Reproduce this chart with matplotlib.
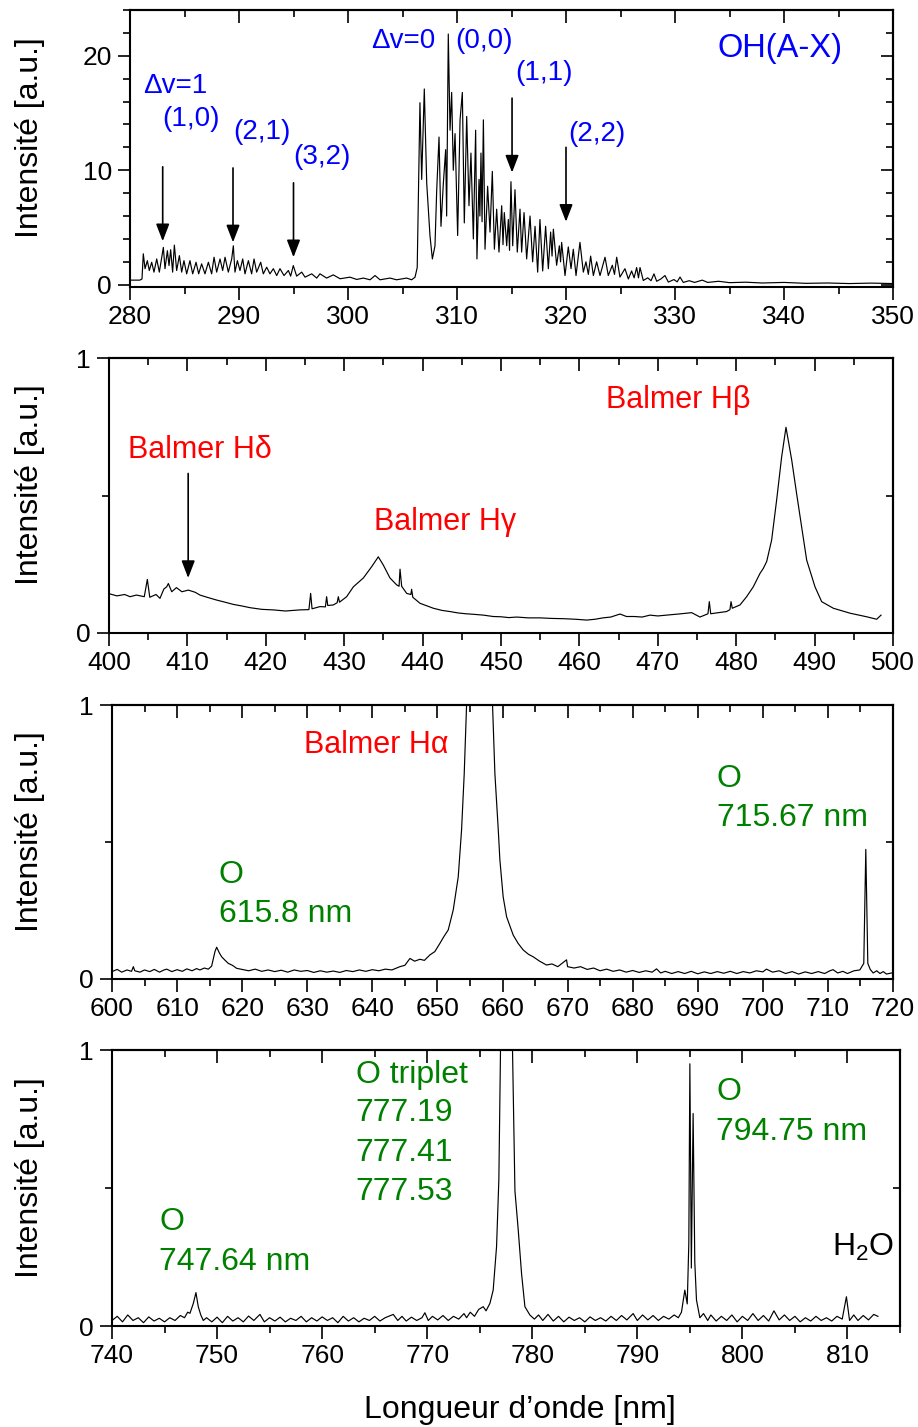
import matplotlib
matplotlib.use('Agg')
import matplotlib.pyplot as plt
from matplotlib.ticker import MultipleLocator

plt.rcParams['font.family'] = ['Liberation Sans', 'DejaVu Sans']
plt.rcParams['mathtext.fontset'] = 'custom'
plt.rcParams['mathtext.rm'] = 'Liberation Sans'

# --- OH(A-X) band, 280-350 nm ---
oh_nm = [280.0, 280.9, 281.1, 281.22, 281.38, 281.59, 281.77, 281.99, 282.2, 282.45,
         282.69, 282.91, 283.06, 283.21, 283.43, 283.58, 283.73, 283.91, 284.07, 284.28,
         284.53, 284.74, 284.95, 285.2, 285.5, 285.75, 286.06, 286.3, 286.57, 286.88,
         287.19, 287.49, 287.71, 287.95, 288.26, 288.5, 288.72, 289.02, 289.33, 289.48,
         289.63, 289.85, 290.09, 290.34, 290.55, 290.86, 291.16, 291.38, 291.62, 291.99,
         292.23, 292.54, 292.84, 293.15, 293.46, 293.76, 294.13, 294.53, 294.74, 294.98,
         295.29, 295.75, 296.06, 296.67, 297.13, 297.43, 298.04, 298.65, 299.27, 300.18,
         300.8, 301.41, 302.02, 302.48, 302.94, 303.85, 304.46, 305.38, 305.84, 306.15,
         306.35, 306.6, 306.76, 307.0, 307.22, 307.52, 307.74, 307.98, 308.14, 308.35,
         308.53, 308.75, 308.96, 309.05, 309.2, 309.36, 309.51, 309.66, 309.82, 310.06,
         310.28, 310.49, 310.67, 310.89, 311.1, 311.28, 311.5, 311.71, 311.83, 312.02,
         312.1, 312.2, 312.3, 312.42, 312.57, 312.81, 313.03, 313.24, 313.43, 313.64,
         313.85, 314.1, 314.22, 314.34, 314.56, 314.71, 314.82, 314.95, 315.11, 315.32,
         315.53, 315.78, 315.93, 316.15, 316.39, 316.7, 316.94, 317.16, 317.4, 317.61,
         317.86, 318.13, 318.38, 318.59, 318.72, 318.84, 319.14, 319.39, 319.5, 319.6,
         319.91, 320.21, 320.46, 320.67, 320.92, 321.28, 321.59, 321.83, 322.05, 322.26,
         322.51, 322.81, 323.12, 323.58, 323.88, 324.25, 324.45, 324.65, 324.95, 325.41,
         325.72, 326.02, 326.25, 326.48, 326.65, 326.79, 327.09, 327.5, 327.8, 328.07,
         328.32, 328.7, 329.08, 329.39, 329.9, 330.2, 330.46, 330.76, 331.3, 331.8,
         332.5, 333.0, 334.0, 335.0, 336.5, 338.0, 340.0, 342.0, 344.0, 346.0,
         348.0, 350.0]
oh_int = [0.4, 0.4, 0.5, 2.7, 1.4, 2.1, 1.24, 1.96, 1.1, 2.25,
          1.1, 2.4, 3.26, 1.4, 2.97, 1.67, 3.06, 1.1, 3.46, 1.24,
          2.54, 1.1, 2.1, 0.95, 2.1, 0.95, 1.96, 0.95, 1.82, 0.95,
          1.96, 0.95, 2.4, 1.1, 2.25, 1.24, 2.4, 1.1, 2.25, 3.4,
          1.1, 2.1, 1.24, 2.25, 0.95, 2.1, 0.95, 2.25, 1.1, 1.96,
          0.95, 1.53, 0.95, 1.4, 0.8, 1.4, 0.8, 1.24, 0.75, 1.67,
          0.75, 1.1, 0.66, 0.95, 0.58, 0.95, 0.58, 0.86, 0.52, 0.66,
          0.46, 0.58, 0.43, 0.8, 0.43, 0.58, 0.43, 0.58, 0.43, 0.66,
          1.5, 15.9, 9.2, 17.1, 8.9, 4.3, 2.25, 3.4, 8.3, 12.9,
          5.1, 8.9, 11.8, 6.0, 21.9, 13.5, 16.8, 10.0, 13.2, 4.3,
          14.4, 16.8, 5.4, 14.7, 6.9, 11.5, 4.0, 13.5, 2.25, 9.2,
          6.0, 11.5, 5.5, 14.4, 3.1, 8.6, 4.6, 9.9, 3.1, 6.6,
          2.85, 6.9, 3.5, 6.3, 3.4, 5.7, 3.0, 9.0, 3.4, 8.3,
          2.85, 6.6, 2.85, 6.3, 2.25, 6.0, 2.0, 5.1, 1.1, 5.7,
          1.2, 5.1, 1.4, 4.6, 2.5, 4.85, 1.7, 3.4, 2.0, 3.7,
          0.8, 3.3, 1.4, 3.1, 0.8, 3.7, 1.1, 2.0, 0.9, 2.5,
          0.8, 2.0, 0.8, 2.4, 0.8, 1.7, 0.9, 2.4, 0.67, 1.4,
          0.5, 1.2, 0.6, 1.5, 0.6, 1.5, 0.37, 0.6, 0.35, 0.95,
          0.3, 0.5, 0.8, 0.23, 0.45, 0.25, 0.67, 0.2, 0.35, 0.2,
          0.4, 0.2, 0.3, 0.18, 0.22, 0.15, 0.2, 0.12, 0.15, 0.1,
          0.14, 0.1]

# --- Balmer H-delta / H-gamma / H-beta, 400-500 nm ---
hb_nm = [400.13, 401.0, 402.0, 402.68, 403.5, 404.5, 404.89, 405.2, 406.0, 406.5,
         407.0, 407.36, 407.57, 408.0, 408.6, 409.3, 410.12, 411.0, 411.6, 412.5,
         413.7, 414.8, 415.86, 417.0, 418.0, 419.5, 420.96, 422.5, 424.36, 425.5,
         425.72, 425.9, 426.91, 427.6, 427.76, 427.9, 428.61, 429.1, 429.25, 429.4,
         430.31, 431.17, 432.44, 433.5, 434.35, 434.99, 435.84, 436.69, 437.0, 437.12,
         437.33, 437.97, 438.5, 438.6, 438.75, 439.67, 441.37, 442.5, 443.5, 444.5,
         445.5, 446.5, 447.75, 449.0, 450.0, 451.0, 452.0, 453.5, 455.0, 456.5,
         458.0, 459.5, 460.93, 462.0, 463.0, 464.0, 465.18, 466.0, 467.0, 468.0,
         469.0, 470.0, 471.5, 473.0, 474.32, 475.38, 476.4, 476.57, 476.75, 478.0,
         478.78, 479.2, 479.34, 479.5, 480.48, 481.33, 482.18, 483.04, 483.46, 483.89,
         484.52, 485.16, 485.8, 486.35, 487.08, 487.7, 488.34, 488.99, 490.05, 490.9,
         492.39, 494.52, 496.64, 497.92, 498.47]
hb_int = [0.142, 0.135, 0.14, 0.132, 0.138, 0.132, 0.195, 0.13, 0.14, 0.126,
          0.16, 0.168, 0.18, 0.15, 0.165, 0.15, 0.156, 0.148, 0.138, 0.13,
          0.12, 0.112, 0.104, 0.098, 0.092, 0.086, 0.084, 0.08, 0.084, 0.085,
          0.144, 0.088, 0.096, 0.095, 0.132, 0.1, 0.102, 0.11, 0.132, 0.112,
          0.132, 0.168, 0.2, 0.241, 0.277, 0.247, 0.2, 0.175, 0.17, 0.232,
          0.17, 0.144, 0.14, 0.159, 0.13, 0.108, 0.09, 0.082, 0.078, 0.073,
          0.07, 0.068, 0.065, 0.06, 0.059, 0.056, 0.058, 0.055, 0.055, 0.053,
          0.052, 0.05, 0.047, 0.05, 0.055, 0.058, 0.069, 0.06, 0.06, 0.058,
          0.065, 0.062, 0.066, 0.07, 0.074, 0.058, 0.07, 0.114, 0.07, 0.075,
          0.078, 0.085, 0.114, 0.09, 0.102, 0.132, 0.168, 0.217, 0.235, 0.26,
          0.338, 0.484, 0.641, 0.748, 0.629, 0.508, 0.387, 0.265, 0.168, 0.114,
          0.09, 0.072, 0.059, 0.05, 0.065]

# --- Balmer H-alpha and O lines, 600-720 nm ---
ha_nm = [600.0, 600.8, 601.5, 602.3, 603.0, 603.28, 603.5, 604.3, 605.0, 605.8,
         606.5, 607.3, 608.0, 608.4, 609.2, 610.0, 610.8, 611.5, 612.3, 613.0,
         613.5, 614.2, 614.8, 615.31, 615.82, 616.08, 616.5, 616.85, 617.3, 617.87,
         618.5, 619.15, 620.0, 621.0, 622.0, 623.0, 624.0, 625.0, 626.0, 627.0,
         628.0, 629.0, 630.0, 631.0, 632.0, 633.0, 634.0, 635.0, 636.0, 637.0,
         638.0, 639.0, 640.0, 641.0, 642.0, 643.0, 644.24, 645.0, 645.78, 646.5,
         647.31, 648.0, 648.85, 649.6, 650.38, 651.0, 651.66, 652.43, 653.2, 653.71,
         654.12, 654.48, 655.5, 656.5, 657.5, 658.47, 658.83, 659.35, 659.6, 660.1,
         660.63, 661.65, 662.4, 663.18, 664.0, 664.72, 665.7, 666.77, 667.6, 668.5,
         669.84, 670.0, 671.0, 672.0, 673.0, 674.0, 675.0, 676.0, 677.0, 678.0,
         679.0, 680.0, 681.0, 682.0, 683.0, 683.67, 684.3, 685.0, 686.0, 687.0,
         688.0, 689.0, 690.0, 691.0, 692.0, 693.0, 694.0, 695.0, 696.0, 697.0,
         698.0, 699.0, 700.0, 700.56, 701.5, 702.5, 703.5, 704.5, 705.5, 706.5,
         707.5, 708.5, 709.5, 710.3, 710.8, 711.5, 712.3, 713.0, 714.0, 714.9,
         715.51, 715.82, 716.13, 716.5, 716.95, 717.5, 718.0, 718.5, 719.0, 719.77]
ha_int = [0.027, 0.035, 0.025, 0.033, 0.028, 0.045, 0.03, 0.025, 0.033, 0.027,
          0.035, 0.025, 0.033, 0.036, 0.027, 0.034, 0.028, 0.037, 0.03, 0.038,
          0.033, 0.04, 0.036, 0.047, 0.1, 0.116, 0.095, 0.081, 0.07, 0.057,
          0.05, 0.039, 0.035, 0.03, 0.036, 0.028, 0.033, 0.027, 0.032, 0.025,
          0.033, 0.028, 0.031, 0.024, 0.03, 0.025, 0.029, 0.024, 0.031, 0.027,
          0.033, 0.028, 0.034, 0.03, 0.036, 0.033, 0.045, 0.05, 0.075, 0.065,
          0.072, 0.068, 0.088, 0.1, 0.13, 0.155, 0.179, 0.252, 0.373, 0.544,
          0.75, 1.0, 2.2, 3.0, 2.2, 1.0, 0.75, 0.544, 0.434, 0.3,
          0.227, 0.16, 0.13, 0.106, 0.09, 0.081, 0.065, 0.051, 0.055, 0.045,
          0.07, 0.045, 0.04, 0.045, 0.035, 0.04, 0.03, 0.036, 0.028, 0.033,
          0.025, 0.031, 0.024, 0.03, 0.025, 0.037, 0.022, 0.028, 0.02, 0.027,
          0.02, 0.028, 0.019, 0.026, 0.02, 0.027, 0.021, 0.028, 0.02, 0.027,
          0.022, 0.03, 0.026, 0.036, 0.025, 0.03, 0.02, 0.027, 0.018, 0.026,
          0.02, 0.027, 0.02, 0.03, 0.034, 0.022, 0.028, 0.02, 0.03, 0.033,
          0.057, 0.473, 0.057, 0.035, 0.022, 0.03, 0.02, 0.027, 0.018, 0.022]

# --- O lines and H2O, 740-815 nm ---
o_nm = [740.0, 740.5, 741.0, 741.5, 742.0, 742.5, 743.0, 743.5, 744.0, 744.5,
        745.0, 745.5, 746.0, 746.5, 746.9, 747.2, 747.42, 747.74, 747.99, 748.21,
        748.45, 748.69, 749.0, 749.5, 750.0, 750.5, 751.0, 751.5, 752.0, 752.5,
        753.0, 753.5, 754.08, 754.5, 755.0, 755.5, 756.0, 756.5, 757.0, 757.5,
        758.0, 758.5, 759.0, 759.5, 760.0, 760.5, 761.0, 761.5, 762.0, 762.5,
        763.0, 763.5, 764.0, 764.5, 765.0, 765.5, 766.0, 766.77, 767.2, 767.6,
        768.0, 768.5, 769.0, 769.5, 769.78, 770.1, 770.5, 771.0, 771.5, 772.0,
        772.5, 773.0, 773.5, 773.75, 774.1, 774.5, 774.9, 775.33, 775.6, 775.97,
        776.28, 776.6, 776.82, 777.01, 777.3, 777.55, 777.85, 778.12, 778.35, 778.66,
        778.98, 779.3, 779.77, 780.2, 780.6, 781.0, 781.5, 782.0, 782.5, 783.0,
        783.5, 784.0, 784.5, 785.0, 785.5, 786.0, 786.5, 787.0, 787.5, 788.0,
        788.5, 789.0, 789.6, 790.0, 790.5, 791.0, 791.5, 792.0, 792.5, 793.0,
        793.5, 793.9, 794.2, 794.52, 794.75, 794.9, 795.0, 795.14, 795.31, 795.47,
        795.63, 795.95, 796.3, 796.7, 797.0, 797.5, 798.0, 798.5, 799.0, 799.5,
        800.0, 800.5, 801.0, 801.5, 802.0, 802.5, 803.0, 803.5, 804.0, 804.5,
        805.0, 805.5, 806.0, 806.5, 807.0, 807.5, 808.0, 808.5, 809.0, 809.5,
        809.9, 810.2, 810.6, 811.0, 811.5, 812.0, 812.5, 812.9]
o_int = [0.02, 0.035, 0.015, 0.04, 0.02, 0.03, 0.012, 0.033, 0.018, 0.028,
         0.015, 0.03, 0.02, 0.038, 0.03, 0.05, 0.046, 0.082, 0.121, 0.07,
         0.04, 0.02, 0.03, 0.015, 0.032, 0.012, 0.035, 0.018, 0.03, 0.015,
         0.036, 0.02, 0.042, 0.015, 0.03, 0.018, 0.032, 0.015, 0.028, 0.02,
         0.035, 0.015, 0.03, 0.018, 0.033, 0.02, 0.03, 0.012, 0.035, 0.018,
         0.03, 0.015, 0.028, 0.02, 0.035, 0.018, 0.03, 0.042, 0.02, 0.035,
         0.018, 0.032, 0.02, 0.03, 0.048, 0.02, 0.035, 0.022, 0.038, 0.02,
         0.035, 0.025, 0.045, 0.03, 0.05, 0.035, 0.06, 0.07, 0.055, 0.082,
         0.13, 0.287, 0.53, 1.1, 3.5, 4.0, 3.0, 1.0, 0.49, 0.35,
         0.19, 0.07, 0.04, 0.025, 0.04, 0.02, 0.042, 0.018, 0.035, 0.015,
         0.032, 0.02, 0.03, 0.015, 0.033, 0.02, 0.03, 0.018, 0.035, 0.02,
         0.038, 0.022, 0.045, 0.02, 0.04, 0.022, 0.038, 0.02, 0.035, 0.025,
         0.04, 0.03, 0.05, 0.13, 0.08, 0.3, 0.95, 0.21, 0.77, 0.23,
         0.094, 0.03, 0.045, 0.02, 0.04, 0.018, 0.035, 0.02, 0.04, 0.015,
         0.035, 0.02, 0.045, 0.02, 0.038, 0.018, 0.055, 0.022, 0.04, 0.02,
         0.035, 0.015, 0.03, 0.018, 0.035, 0.02, 0.03, 0.018, 0.035, 0.025,
         0.106, 0.02, 0.04, 0.02, 0.038, 0.022, 0.042, 0.035]

W, H = 918, 1427
fig = plt.figure(figsize=(W / 100, H / 100), dpi=100)


def box(l, t, r, b):
    return [l / W, 1 - b / H, (r - l) / W, (b - t) / H]


def style(ax, xlim, ylim, xmaj, ymaj, ymin):
    ax.set_xlim(*xlim)
    ax.set_ylim(*ylim)
    for s in ax.spines.values():
        s.set_linewidth(1.5)
    ax.tick_params(which='both', direction='out', width=1.2, labelsize=19, pad=4)
    ax.tick_params(which='major', length=9)
    ax.tick_params(which='minor', length=5)
    top = ax.secondary_xaxis('top')
    right = ax.secondary_yaxis('right')
    for a in (ax.xaxis, top.xaxis):
        a.set_major_locator(MultipleLocator(xmaj))
        a.set_minor_locator(MultipleLocator(xmaj / 2))
    for a in (ax.yaxis, right.yaxis):
        a.set_major_locator(MultipleLocator(ymaj))
        a.set_minor_locator(MultipleLocator(ymin))
    top.tick_params(which='both', direction='in', width=1.2, labeltop=False)
    top.tick_params(which='major', length=9)
    top.tick_params(which='minor', length=5)
    right.tick_params(which='both', direction='in', width=1.2, labelright=False)
    right.tick_params(which='major', length=9)
    right.tick_params(which='minor', length=5)
    top.spines['top'].set_linewidth(1.5)
    right.spines['right'].set_linewidth(1.5)


def arrow(ax, x, y0, y1):
    ax.annotate('', xy=(x, y1), xytext=(x, y0),
                arrowprops=dict(arrowstyle='-|>,head_length=0.7,head_width=0.27',
                                color='black', lw=1.2, mutation_scale=15,
                                shrinkA=0, shrinkB=0))


blue, red, green = '#0000ff', '#ff0000', '#008000'
lw = 0.85

# panel 1: OH
ax1 = fig.add_axes(box(130, 10, 893, 287))
ax1.plot(oh_nm, oh_int, color='black', lw=lw)
style(ax1, (280, 350), (-0.2, 24), 10, 10, 2)
for txt, x, y in [('Δv=1', 281.2, 17.4), ('(1,0)', 283.0, 14.5), ('(2,1)', 289.5, 13.3),
                  ('(3,2)', 295.0, 11.2), ('Δv=0', 302.1, 21.3), ('(0,0)', 309.8, 21.3),
                  ('(1,1)', 315.3, 18.5), ('(2,2)', 320.2, 13.2)]:
    ax1.text(x, y, txt, color=blue, fontsize=20, ha='left', va='center')
ax1.text(333.9, 20.6, 'OH(A-X)', color=blue, fontsize=23.5, ha='left', va='center')
for x, y0, y1 in [(283.0, 10.3, 3.8), (289.45, 10.2, 3.7), (295.0, 8.9, 2.4),
                  (315.05, 16.3, 9.8), (320.0, 12.0, 5.5)]:
    arrow(ax1, x, y0, y1)

# panel 2: H-delta, H-gamma, H-beta
ax2 = fig.add_axes(box(109, 358, 893, 633))
ax2.plot(hb_nm, hb_int, color='black', lw=lw)
style(ax2, (400, 500), (0, 1), 10, 1, 0.5)
ax2.text(402.4, 0.665, 'Balmer Hδ', color=red, fontsize=22, ha='left', va='center')
ax2.text(433.8, 0.404, 'Balmer Hγ', color=red, fontsize=22, ha='left', va='center')
ax2.text(463.4, 0.847, 'Balmer Hβ', color=red, fontsize=22, ha='left', va='center')
arrow(ax2, 410.1, 0.58, 0.20)

# panel 3: H-alpha
ax3 = fig.add_axes(box(112, 705, 893, 979))
ax3.plot(ha_nm, ha_int, color='black', lw=lw)
style(ax3, (600, 720), (0, 1), 10, 1, 0.5)
ax3.text(629.5, 0.854, 'Balmer Hα', color=red, fontsize=22, ha='left', va='center')
for txt, x, y in [('O', 616.4, 0.380), ('615.8 nm', 616.4, 0.237),
                  ('O', 692.9, 0.730), ('715.67 nm', 692.9, 0.588)]:
    ax3.text(x, y, txt, color=green, fontsize=23, ha='left', va='center')

# panel 4: O lines
ax4 = fig.add_axes(box(112, 1050, 900, 1326))
ax4.plot(o_nm, o_int, color='black', lw=lw)
style(ax4, (740, 815), (0, 1), 10, 1, 0.5)
for txt, x, y in [('O', 744.5, 0.377), ('747.64 nm', 744.5, 0.232),
                  ('O triplet', 763.2, 0.909), ('777.19', 763.2, 0.772),
                  ('777.41', 763.2, 0.627), ('777.53', 763.2, 0.486),
                  ('O', 797.5, 0.848), ('794.75 nm', 797.5, 0.703)]:
    ax4.text(x, y, txt, color=green, fontsize=23, ha='left', va='center')
ax4.text(808.5, 0.283, r'$\mathrm{H_2O}$', color='black', fontsize=23, ha='left', va='center')

# axis labels
for yc in [138, 485, 832, 1178]:
    fig.text(30 / W, 1 - yc / H, 'Intensité [a.u.]', rotation=90,
             ha='center', va='center', fontsize=23)
fig.text(520 / W, 1 - 1410 / H, 'Longueur d’onde [nm]', ha='center', va='center', fontsize=23)

fig.savefig('out.png', dpi=100)
